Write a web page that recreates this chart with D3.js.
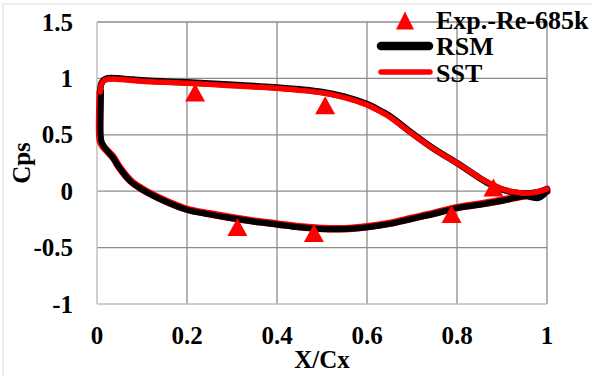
<!DOCTYPE html>
<html>
<head>
<meta charset="utf-8">
<script src="https://cdn.jsdelivr.net/npm/d3@7"></script>
<style>
  html, body { margin: 0; padding: 0; background: #fff; }
  svg { display: block; }
  text { font-family: "Liberation Serif", "Times New Roman", serif; font-weight: bold; fill: #000; }
</style>
</head>
<body>
<svg id="chart" width="592" height="376"></svg>
<script>
// Tick values
const xTicks = [0, 0.2, 0.4, 0.6, 0.8, 1];
const xTickLabels = ["0", "0.2", "0.4", "0.6", "0.8", "1"];
const yTicks = [-1, -0.5, 0, 0.5, 1, 1.5];
const yTickLabels = ["-1", "-0.5", "0", "0.5", "1", "1.5"];

// Experimental points (Re = 685k)
const expX = [0.218, 0.507, 0.312, 0.482, 0.788, 0.881];
const expCp = [0.875, 0.762, -0.317, -0.371, -0.202, 0.033];

// Pressure side (upper branch), leading edge to trailing edge
const upperX = [0.007, 0.009, 0.014, 0.021, 0.03, 0.045, 0.07, 0.1, 0.15, 0.2, 0.25, 0.3, 0.35, 0.4, 0.45, 0.5, 0.55, 0.6, 0.63, 0.65, 0.7, 0.75, 0.8, 0.85, 0.875, 0.9, 0.925, 0.95, 0.975, 1.0];
const sstUpperCp = [0.88, 0.94, 0.975, 0.99, 0.995, 0.993, 0.985, 0.975, 0.965, 0.957, 0.947, 0.935, 0.924, 0.912, 0.895, 0.872, 0.83, 0.765, 0.705, 0.66, 0.51, 0.37, 0.25, 0.12, 0.065, 0.02, -0.005, -0.018, -0.01, 0.02];
const rsmUpperCp = [0.88, 0.945, 0.982, 0.998, 1.003, 1.001, 0.993, 0.983, 0.973, 0.965, 0.955, 0.943, 0.932, 0.92, 0.903, 0.88, 0.838, 0.772, 0.712, 0.667, 0.515, 0.372, 0.25, 0.118, 0.06, 0.015, -0.01, -0.02, -0.012, 0.02];

// Suction side (lower branch), leading edge to trailing edge
const lowerX = [0.007, 0.006, 0.006, 0.008, 0.013, 0.022, 0.036, 0.05, 0.075, 0.1, 0.125, 0.16, 0.2, 0.25, 0.3, 0.35, 0.4, 0.45, 0.5, 0.55, 0.6, 0.65, 0.7, 0.75, 0.8, 0.85, 0.9, 0.95, 0.98, 1.0];
const sstLowerCp = [0.88, 0.7, 0.5, 0.44, 0.4, 0.36, 0.3, 0.21, 0.09, 0.02, -0.035, -0.1, -0.16, -0.2, -0.235, -0.265, -0.29, -0.315, -0.33, -0.332, -0.315, -0.285, -0.24, -0.195, -0.145, -0.115, -0.08, -0.04, -0.02, 0.0];
const rsmLowerX = [0.009, 0.008, 0.008, 0.01, 0.015, 0.023, 0.036, 0.05, 0.075, 0.1, 0.125, 0.16, 0.2, 0.25, 0.3, 0.35, 0.4, 0.45, 0.5, 0.55, 0.6, 0.65, 0.7, 0.75, 0.8, 0.85, 0.9, 0.95, 0.982, 1.0];
const rsmLowerCp = [0.88, 0.7, 0.5, 0.44, 0.4, 0.355, 0.295, 0.205, 0.085, 0.015, -0.04, -0.105, -0.165, -0.205, -0.24, -0.27, -0.295, -0.32, -0.335, -0.336, -0.32, -0.29, -0.245, -0.2, -0.15, -0.12, -0.085, -0.045, -0.06, 0.0];

const svg = d3.select("#chart");

// Outer frame
svg.append("rect")
  .attr("x", 3).attr("y", 4).attr("width", 600).attr("height", 400)
  .attr("fill", "none").attr("stroke", "#d9d9d9").attr("stroke-width", 1);

const x = d3.scaleLinear().domain([0, 1]).range([97, 547]);
const y = d3.scaleLinear().domain([-1, 1.5]).range([304, 22]);

// Grid
const grid = svg.append("g");
grid.selectAll("line.vx").data(xTicks.slice(1)).join("line")
  .attr("x1", d => x(d)).attr("x2", d => x(d))
  .attr("y1", y(1.5)).attr("y2", y(-1))
  .attr("stroke", "#8c8c8c").attr("stroke-width", 1.3);
grid.selectAll("line.hy").data(yTicks.slice(1)).join("line")
  .attr("x1", x(0)).attr("x2", x(1))
  .attr("y1", d => y(d)).attr("y2", d => y(d))
  .attr("stroke", "#8c8c8c").attr("stroke-width", 1.3);
// Axis lines
grid.append("line").attr("x1", x(0)).attr("x2", x(0)).attr("y1", y(1.5)).attr("y2", y(-1))
  .attr("stroke", "#bfbfbf").attr("stroke-width", 1.5);
grid.append("line").attr("x1", x(0)).attr("x2", x(1)).attr("y1", y(-1)).attr("y2", y(-1))
  .attr("stroke", "#bfbfbf").attr("stroke-width", 1.5);

// Tick labels
svg.append("g").selectAll("text").data(xTicks).join("text")
  .attr("x", d => x(d)).attr("y", 344)
  .attr("text-anchor", "middle").attr("font-size", 25)
  .text((d, i) => xTickLabels[i]);
svg.append("g").selectAll("text").data(yTicks).join("text")
  .attr("x", 73).attr("y", d => y(d)).attr("dy", "0.34em")
  .attr("text-anchor", "end").attr("font-size", 25)
  .text((d, i) => yTickLabels[i]);

// Axis titles
svg.append("text").attr("x", (x(0) + x(1)) / 2).attr("y", 368)
  .attr("text-anchor", "middle").attr("font-size", 25).text("X/Cx");
svg.append("text").attr("transform", `translate(30,${(y(1.5) + y(-1)) / 2}) rotate(-90)`)
  .attr("text-anchor", "middle").attr("font-size", 25).text("Cps");

// Curves
const line = d3.line().x(d => x(d[0])).y(d => y(d[1])).curve(d3.curveCatmullRom.alpha(0.5));
const zip = (xs, ys) => xs.map((v, i) => [v, ys[i]]);
const curves = svg.append("g").attr("fill", "none").attr("stroke-linejoin", "round").attr("stroke-linecap", "round");

curves.append("path").attr("d", line(zip(lowerX, sstLowerCp)))
  .attr("stroke", "#ff0000").attr("stroke-width", 7.5);
curves.append("path").attr("d", line(zip(rsmLowerX, rsmLowerCp)))
  .attr("stroke", "#000").attr("stroke-width", 6);
curves.append("path").attr("d", line(zip(upperX, rsmUpperCp)))
  .attr("stroke", "#000").attr("stroke-width", 6.5);
curves.append("path").attr("d", line(zip(upperX, sstUpperCp)))
  .attr("stroke", "#ff0000").attr("stroke-width", 5.5);

// Experimental markers
const tri = "M0,-9L10,9L-10,9Z";
svg.append("g").selectAll("path").data(expX).join("path")
  .attr("transform", (d, i) => `translate(${x(d)},${y(expCp[i])})`)
  .attr("d", tri).attr("fill", "#ff0000");

// Legend
const lg = svg.append("g");
lg.append("path").attr("transform", "translate(405,20.5)").attr("d", "M0,-9L9,9L-9,9Z").attr("fill", "#ff0000");
lg.append("line").attr("x1", 381).attr("x2", 429).attr("y1", 46).attr("y2", 46)
  .attr("stroke", "#000").attr("stroke-width", 8.5).attr("stroke-linecap", "round");
lg.append("line").attr("x1", 381).attr("x2", 430).attr("y1", 72).attr("y2", 72)
  .attr("stroke", "#ff0000").attr("stroke-width", 5.5).attr("stroke-linecap", "round");
const legendNames = ["Exp.-Re-685k", "RSM", "SST"];
lg.selectAll("text").data(legendNames).join("text")
  .attr("x", 436).attr("y", (d, i) => 28.5 + i * 26.7)
  .attr("font-size", 26).text(d => d);
</script>
</body>
</html>
